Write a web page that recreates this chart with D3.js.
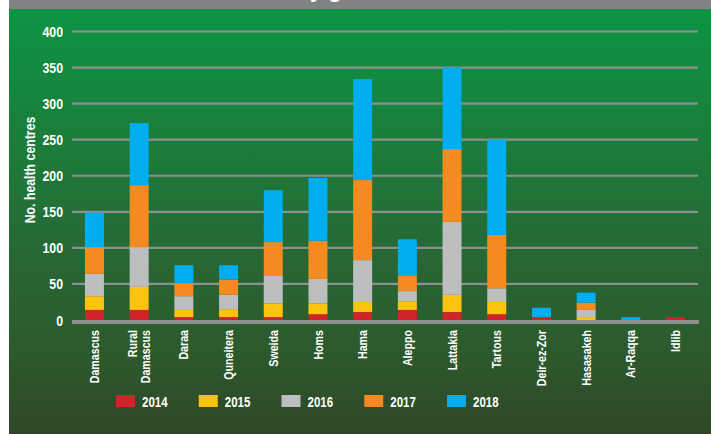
<!DOCTYPE html>
<html>
<head>
<meta charset="utf-8">
<script src="https://cdn.jsdelivr.net/npm/d3@7"></script>
<style>
  html, body { margin: 0; padding: 0; background: #ffffff; }
  svg { display: block; }
  text { font-family: "Liberation Sans", Arial, sans-serif; font-weight: bold; fill: #ffffff; }
</style>
</head>
<body>
<svg id="chart" width="711" height="434"></svg>
<script>
// Health centres per governorate, stacked by year
const governorates = ["Damascus", "Rural Damascus", "Daraa", "Quneitera", "Sweida", "Homs", "Hama",
  "Aleppo", "Lattakia", "Tartous", "Deir-ez-Zor", "Hasasakeh", "Ar-Raqqa", "Idlib"];
const years = ["2014", "2015", "2016", "2017", "2018"];
const v2014 = [14, 14, 4, 4, 4, 8, 11, 14, 11, 8, 4, 0, 0, 4];
const v2015 = [19, 32, 10, 11, 19, 15, 14, 12, 24, 17, 0, 4, 0, 0];
const v2016 = [31, 55, 19, 20, 38, 34, 58, 14, 101, 19, 0, 10, 0, 0];
const v2017 = [37, 86, 18, 21, 47, 53, 111, 22, 101, 74, 0, 10, 0, 0];
const v2018 = [48, 86, 25, 20, 72, 87, 140, 50, 113, 132, 13, 14, 4, 0];
const yTicks = [0, 50, 100, 150, 200, 250, 300, 350, 400];
const yearColors = ["#d2232a", "#fdc311", "#bcbec0", "#f48b20", "#00aeef"];

const seriesValues = [v2014, v2015, v2016, v2017, v2018];
const rows = governorates.map((g, i) => {
  const r = { name: g };
  years.forEach((y, k) => { r[y] = seriesValues[k][i]; });
  return r;
});

const svg = d3.select("#chart");

// background: grey header strip and green gradient panel
const defs = svg.append("defs");
const grad = defs.append("linearGradient").attr("id", "panelGrad")
  .attr("x1", 0).attr("y1", 0).attr("x2", 0).attr("y2", 1);
[["0%", "#0b9443"], ["30%", "#1b7e3b"], ["60%", "#286634"], ["80%", "#2c5a2d"], ["100%", "#304727"]]
  .forEach(([o, c]) => grad.append("stop").attr("offset", o).attr("stop-color", c));

svg.append("rect").attr("x", 9).attr("y", 0).attr("width", 702).attr("height", 9).attr("fill", "#818285");
svg.append("rect").attr("x", 9).attr("y", 9).attr("width", 702).attr("height", 425).attr("fill", "url(#panelGrad)");

// heading, mostly above the visible area
const heading = svg.append("text")
  .attr("y", -3)
  .style("font-size", "22px")
  .text("Number of health centres by governorate");
const hNode = heading.node();
const yIdx = hNode.textContent.indexOf("by") + 1;
heading.attr("x", 310 - hNode.getSubStringLength(0, yIdx));

const x = d3.scaleBand().domain(governorates).range([72, 698]).paddingInner(0.575).paddingOuter(0.29);
const y = d3.scaleLinear().domain([0, 400]).range([320, 31.5]);

// grid lines
const grid = svg.append("g");
grid.selectAll("line").data(yTicks.filter(t => t > 0)).join("line")
  .attr("x1", 72).attr("x2", 698)
  .attr("y1", d => y(d)).attr("y2", d => y(d))
  .attr("stroke", "#8d8f91").attr("stroke-width", 2.2);

// y axis labels (condensed by horizontal scaling)
const yAxis = d3.axisLeft(y).tickValues(yTicks).tickSize(0).tickPadding(0);
const yg = svg.append("g").attr("transform", "translate(63,0)").call(yAxis);
yg.select(".domain").remove();
yg.selectAll("text")
  .attr("font-family", null).attr("font-size", null)
  .style("font-size", "14px").attr("fill", "#ffffff")
  .attr("x", 0).attr("dy", "0.36em")
  .attr("transform", "scale(0.88,1)");

// stacked bars
const stack = d3.stack().keys(years);
const layers = stack(rows);
svg.append("g").selectAll("g").data(layers).join("g")
  .attr("fill", (d, i) => yearColors[i])
  .selectAll("rect").data(d => d).join("rect")
  .attr("x", d => x(d.data.name))
  .attr("width", x.bandwidth())
  .attr("y", d => y(d[1]))
  .attr("height", d => Math.max(0, y(d[0]) - y(d[1])));

// zero baseline
svg.append("line").attr("x1", 72).attr("x2", 699).attr("y1", 322).attr("y2", 322)
  .attr("stroke", "#8e8e8e").attr("stroke-width", 4);

// governorate labels
const labelLines = g => g === "Rural Damascus" ? ["Rural", "Damascus"] : [g];
const xl = svg.append("g");
governorates.forEach(g => {
  const lines = labelLines(g);
  const t = xl.append("text")
    .attr("transform", `translate(${x(g) + x.bandwidth() / 2},330) rotate(-90) scale(0.82,1)`)
    .attr("text-anchor", "end")
    .style("font-size", "13px");
  lines.forEach((ln, i) => {
    t.append("tspan").attr("x", 0)
      .attr("dy", i === 0 ? `${0.35 - (lines.length - 1) * 0.5}em` : "1em")
      .text(ln);
  });
});

// y axis title
svg.append("text")
  .attr("transform", "translate(34.5,170) rotate(-90) scale(0.88,1)")
  .attr("text-anchor", "middle")
  .style("font-size", "14px")
  .text("No. health centres");

// legend
const legend = svg.append("g");
const legendX = d3.scalePoint().domain(years).range([116, 447]);
years.forEach((yr, i) => {
  legend.append("rect").attr("x", legendX(yr)).attr("y", 395).attr("width", 19).attr("height", 12)
    .attr("fill", yearColors[i]);
  legend.append("text")
    .attr("transform", `translate(${legendX(yr) + 26},406.5) scale(0.82,1)`)
    .style("font-size", "14px").text(yr);
});
</script>
</body>
</html>
